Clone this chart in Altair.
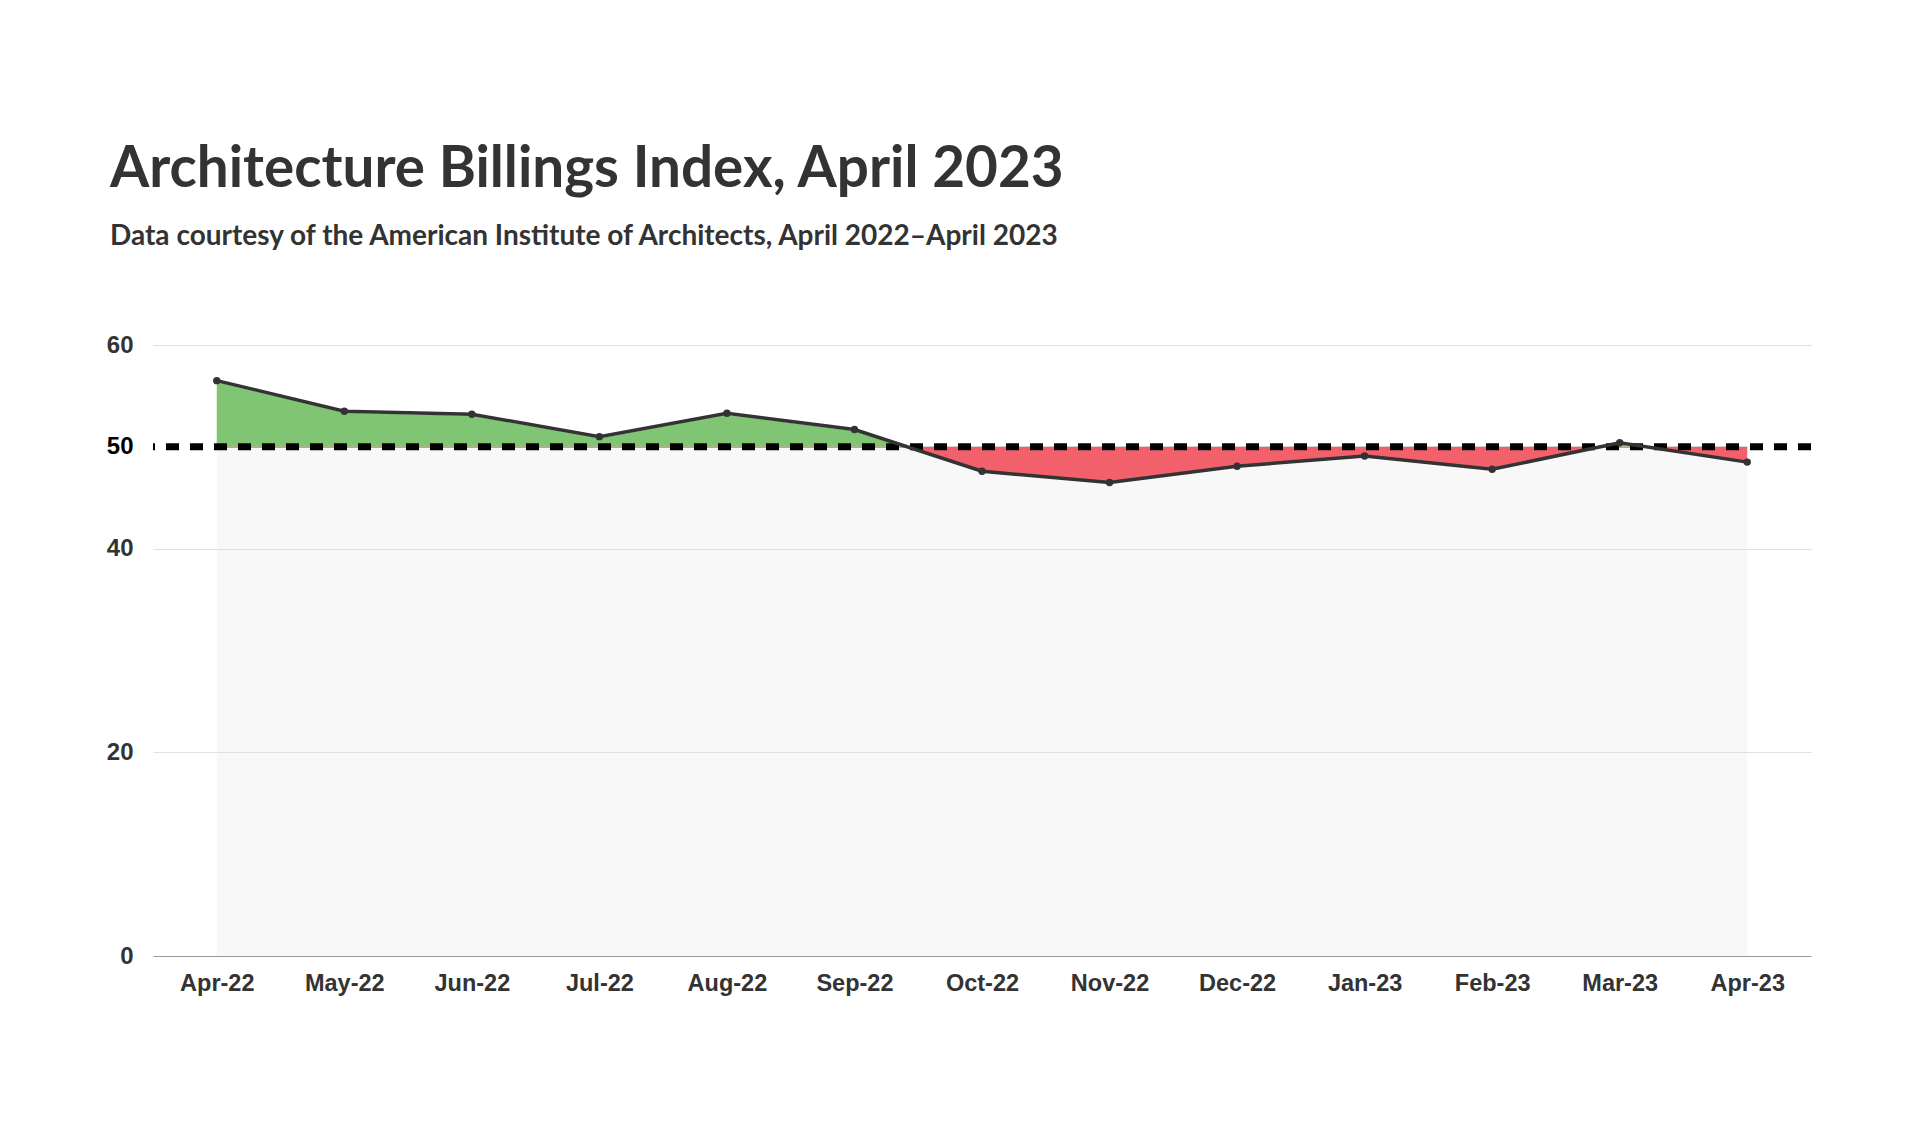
import altair as alt
import pandas as pd

months = ["Apr-22", "May-22", "Jun-22", "Jul-22", "Aug-22", "Sep-22", "Oct-22",
          "Nov-22", "Dec-22", "Jan-23", "Feb-23", "Mar-23", "Apr-23"]
values = [56.5, 53.5, 53.2, 51.0, 53.3, 51.7, 47.6, 46.5, 48.1, 49.1, 47.8, 50.4, 48.5]
baseline = 50
y_ticks = [0, 20, 40, 50, 60]

TITLE = "Architecture Billings Index, April 2023"
SUBTITLE = "Data courtesy of the American Institute of Architects, April 2022\u2013April 2023"

pts = pd.DataFrame({"i": list(range(len(months))), "month": months, "value": values})

# area data with baseline crossings inserted so green/red fills split exactly at 50
rows = []
for k in range(len(values)):
    rows.append({"i": float(k), "value": values[k]})
    if k < len(values) - 1:
        a, b = values[k] - baseline, values[k + 1] - baseline
        if a * b < 0:
            t = (baseline - values[k]) / (values[k + 1] - values[k])
            rows.append({"i": k + t, "value": float(baseline)})
area_df = pd.DataFrame(rows)

label_expr = "[" + ",".join("'" + m + "'" for m in months) + "][datum.value]"

x_enc = alt.X("i:Q", scale=alt.Scale(domain=[-0.5, len(months) - 0.5], nice=False, zero=False),
              axis=alt.Axis(values=list(range(len(months))), labelExpr=label_expr, title=None,
                            ticks=False, grid=False, domain=True, domainColor="#999999",
                            domainWidth=1.2, labelPadding=15, labelFontSize=23.5,
                            labelFont="Liberation Sans", labelFontWeight="bold",
                            labelColor="#333333", zindex=2))
y_scale = alt.Scale(domain=[0, 60], nice=False)
y_axis = alt.Axis(values=y_ticks, title=None, ticks=False, domain=False, grid=True,
                  gridColor="#e0e0e0", gridWidth=1,
                  gridOpacity={"expr": "datum.value == 50 || datum.value == 0 ? 0 : 1"},
                  labelPadding=20, labelFontSize=24,
                  labelFont="Liberation Sans", labelFontWeight="bold", zindex=1,
                  labelColor={"expr": "datum.value == 50 ? '#000000' : '#333333'"})

base_area = alt.Chart(area_df)

gray = base_area.mark_area(color="#f8f8f8").encode(
    x=x_enc,
    y=alt.Y("value:Q", scale=y_scale, axis=y_axis),
    y2=alt.datum(0),
)

green = base_area.transform_calculate(
    up=f"max(datum.value, {baseline})"
).mark_area(color="#80c574", yOffset=1.5).encode(
    x="i:Q", y=alt.Y("up:Q", scale=y_scale), y2=alt.datum(baseline)
)

red = base_area.transform_calculate(
    dn=f"min(datum.value, {baseline})"
).mark_area(color="#f2606b", yOffset=1).encode(
    x="i:Q", y=alt.Y("dn:Q", scale=y_scale), y2=alt.datum(baseline)
)

rule = alt.Chart(pd.DataFrame({"y": [baseline]})).mark_rule(
    color="#000000", strokeWidth=7, strokeDash=[13, 11]
).encode(y=alt.Y("y:Q", scale=y_scale))

line = alt.Chart(pts).mark_line(color="#333333", strokeWidth=3.5).encode(
    x="i:Q", y=alt.Y("value:Q", scale=y_scale)
)
dots = alt.Chart(pts).mark_circle(color="#333333", size=55, opacity=1).encode(
    x="i:Q", y=alt.Y("value:Q", scale=y_scale)
)

chart = alt.layer(gray, green, red, rule, line, dots).properties(
    width=1658,
    height=611,
    background="#ffffff",
    autosize=alt.AutoSizeParams(type="none"),
    padding={"left": 145, "top": 337, "right": 100, "bottom": 160},
    title=alt.TitleParams(
        text=TITLE,
        subtitle=SUBTITLE,
        anchor="start",
        frame="group",
        orient="top",
        dx=-43,
        offset=82,
        font="Lato",
        fontSize=56.6,
        fontWeight="bold",
        color="#333333",
        subtitleFont="Lato",
        subtitleFontSize=28,
        subtitleFontWeight="bold",
        subtitleColor="#333333",
        subtitlePadding=24,
    ),
).configure_view(stroke="transparent", strokeWidth=0)

chart.save("out.html", embed_options={"renderer": "svg", "actions": False})
